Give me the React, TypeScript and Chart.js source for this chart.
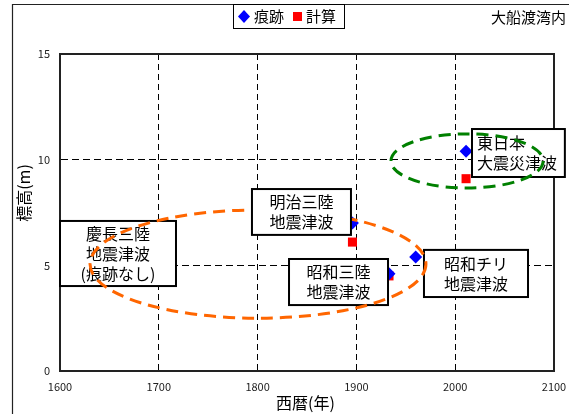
import { useEffect, useRef } from "react";
import { Chart, registerables } from "chart.js";

Chart.register(...registerables);

// ---- data ----
const xTicks = [1600, 1700, 1800, 1900, 2000, 2100];
const yTicks = [0, 5, 10, 15];
const seriesNames = ["痕跡", "計算"];
const traceYears = [1896, 1933, 1960, 2011];
const traceHeights = [7.0, 4.6, 5.4, 10.4];
const calcYears = [1896, 1933, 2011];
const calcHeights = [6.1, 4.5, 9.1];
const chartTitle = "大船渡湾内";
const xTitle = "西暦(年)";
const yTitle = "標高(m)";

// annotation boxes (in data units)
const noteLines = [
  ["慶長三陸", "地震津波", "(痕跡なし)"],
  ["明治三陸", "地震津波"],
  ["昭和三陸", "地震津波"],
  ["昭和チリ", "地震津波"],
  ["東日本", "大震災津波"],
];
const noteYearFrom = [1600, 1794.3, 1831.8, 1968.4, 2017];
const noteYearTo = [1717.4, 1894.5, 1932, 2073.7, 2111];
const noteTop = [7.1, 8.61, 5.3, 5.73, 11.45];
const noteBottom = [4.02, 6.44, 3.12, 3.5, 9.18];
const noteAbove = [false, true, false, false, false];
const noteAlign = ["center", "center", "center", "center", "left"];

// dashed ellipses (in data units)
const ringYear = [1800.4, 2012];
const ringHeight = [5.06, 9.94];
const ringHalfYears = [170, 77];
const ringHalfHeight = [2.56, 1.28];
const ringColors = ["#FF6600", "#008000"];

const FONT = '"Noto Sans CJK JP", "Noto Sans", sans-serif';

const decor = {
  id: "decor",
  beforeDraw(chart: any) {
    const ctx = chart.ctx;
    ctx.save();
    ctx.fillStyle = "#ffffff";
    ctx.fillRect(0, 0, chart.width, chart.height);
    ctx.strokeStyle = "#222";
    ctx.lineWidth = 1.2;
    ctx.beginPath();
    ctx.moveTo(12.5, chart.height);
    ctx.lineTo(12.5, 4.5);
    ctx.lineTo(chart.width, 4.5);
    ctx.stroke();
    ctx.restore();
  },
  beforeDatasetsDraw(chart: any) {
    const ctx = chart.ctx;
    const a = chart.chartArea;
    ctx.save();
    ctx.strokeStyle = "#222";
    ctx.lineWidth = 2;
    ctx.strokeRect(a.left, a.top, a.right - a.left, a.bottom - a.top);
    ctx.restore();
  },
  afterDatasetsDraw(chart: any) {
    const ctx = chart.ctx;
    const xs = chart.scales.x;
    const ys = chart.scales.y;
    const drawNote = (i: number) => {
      const x0 = xs.getPixelForValue(noteYearFrom[i]);
      const x1 = xs.getPixelForValue(noteYearTo[i]);
      const y0 = ys.getPixelForValue(noteTop[i]);
      const y1 = ys.getPixelForValue(noteBottom[i]);
      ctx.save();
      ctx.fillStyle = "#ffffff";
      ctx.fillRect(x0, y0, x1 - x0, y1 - y0);
      ctx.strokeStyle = "#000";
      ctx.lineWidth = 2;
      ctx.strokeRect(x0, y0, x1 - x0, y1 - y0);
      ctx.fillStyle = "#000";
      ctx.font = `16px ${FONT}`;
      ctx.textBaseline = "middle";
      const lines = noteLines[i];
      const lh = 20;
      const cy = (y0 + y1) / 2;
      lines.forEach((t, k) => {
        const y = cy + (k - (lines.length - 1) / 2) * lh;
        if (noteAlign[i] === "left") {
          ctx.textAlign = "left";
          ctx.fillText(t, x0 + 5, y);
        } else {
          ctx.textAlign = "center";
          ctx.fillText(t, (x0 + x1) / 2, y);
        }
      });
      ctx.restore();
    };
    noteLines.forEach((_, i) => { if (!noteAbove[i]) drawNote(i); });
    ringYear.forEach((yr, i) => {
      const cx = xs.getPixelForValue(yr);
      const cy = ys.getPixelForValue(ringHeight[i]);
      const rx = Math.abs(xs.getPixelForValue(yr + ringHalfYears[i]) - cx);
      const ry = Math.abs(ys.getPixelForValue(ringHeight[i] + ringHalfHeight[i]) - cy);
      ctx.save();
      ctx.strokeStyle = ringColors[i];
      ctx.lineWidth = 3;
      ctx.setLineDash([12, 7]);
      ctx.beginPath();
      ctx.ellipse(cx, cy, rx, ry, 0, 0, Math.PI * 2);
      ctx.stroke();
      ctx.restore();
    });
    noteLines.forEach((_, i) => { if (noteAbove[i]) drawNote(i); });

    // legend box
    ctx.save();
    ctx.fillStyle = "#fff";
    ctx.fillRect(233, 4, 111, 24);
    ctx.strokeStyle = "#000";
    ctx.lineWidth = 1;
    ctx.strokeRect(233.5, 4.5, 111, 24);
    const ds = chart.data.datasets;
    ctx.fillStyle = ds[0].backgroundColor;
    ctx.beginPath();
    ctx.moveTo(244, 10);
    ctx.lineTo(250, 16.5);
    ctx.lineTo(244, 23);
    ctx.lineTo(238, 16.5);
    ctx.closePath();
    ctx.fill();
    ctx.fillStyle = ds[1].backgroundColor;
    ctx.fillRect(293, 12, 9, 9);
    ctx.fillStyle = "#000";
    ctx.font = `15px ${FONT}`;
    ctx.textBaseline = "middle";
    ctx.textAlign = "left";
    ctx.fillText(ds[0].label, 254, 16.5);
    ctx.fillText(ds[1].label, 306, 16.5);
    ctx.fillText(chartTitle, 491, 17.5);
    ctx.font = `16px ${FONT}`;
    ctx.textAlign = "center";
    ctx.fillText(xTitle, 305.5, 403);
    ctx.translate(24, 193);
    ctx.rotate(-Math.PI / 2);
    ctx.fillText(yTitle, 0, 0);
    ctx.restore();
  },
};

export default function App() {
  const ref = useRef<HTMLCanvasElement | null>(null);
  useEffect(() => {
    if (!ref.current) return;
    Chart.defaults.font.family = FONT;
    const chart = new Chart(ref.current, {
      type: "scatter",
      data: {
        datasets: [
          {
            label: seriesNames[0],
            data: traceYears.map((x, i) => ({ x, y: traceHeights[i] })),
            backgroundColor: "#0000FF",
            borderColor: "#0000FF",
            borderWidth: 0,
            pointStyle: "rectRot",
            pointRadius: 6.5,
          },
          {
            label: seriesNames[1],
            data: calcYears.map((x, i) => ({ x, y: calcHeights[i] })),
            backgroundColor: "#FF0000",
            borderColor: "#FF0000",
            borderWidth: 0,
            pointStyle: "rect",
            pointRadius: 6.4,
          },
        ],
      },
      options: {
        animation: false,
        responsive: false,
        events: [],
        layout: { padding: { left: 0, top: 54, right: 15, bottom: 0 } },
        plugins: { legend: { display: false }, tooltip: { enabled: false }, title: { display: false } },
        scales: {
          x: {
            type: "linear",
            min: xTicks[0],
            max: xTicks[xTicks.length - 1],
            afterBuildTicks: (s: any) => { s.ticks = xTicks.map((v) => ({ value: v })); },
            afterFit: (s: any) => { s.height = 43; s.paddingLeft = 0; s.paddingRight = 0; },
            ticks: {
              callback: (v: any) => String(v),
              color: "#222",
              font: { size: 11 },
              padding: 9,
              maxRotation: 0,
            },
            grid: { color: "#000", lineWidth: 1, drawTicks: false },
            border: { display: true, color: "#222", width: 2, dash: [6, 4] },
          },
          y: {
            min: yTicks[0],
            max: yTicks[yTicks.length - 1],
            afterBuildTicks: (s: any) => { s.ticks = yTicks.map((v) => ({ value: v })); },
            afterFit: (s: any) => { s.width = 60; s.paddingTop = 0; s.paddingBottom = 0; },
            ticks: {
              callback: (v: any) => String(v),
              color: "#222",
              font: { size: 11 },
              padding: 10,
            },
            grid: { color: "#000", lineWidth: 1, drawTicks: false },
            border: { display: true, color: "#222", width: 2, dash: [7, 4] },
          },
        },
      },
      plugins: [decor],
    } as any);
    return () => chart.destroy();
  }, []);
  return (
    <div style={{ position: "absolute", left: 0, top: 0, width: 569, height: 414 }}>
      <canvas ref={ref} width={569} height={414} style={{ display: "block" }} />
    </div>
  );
}
